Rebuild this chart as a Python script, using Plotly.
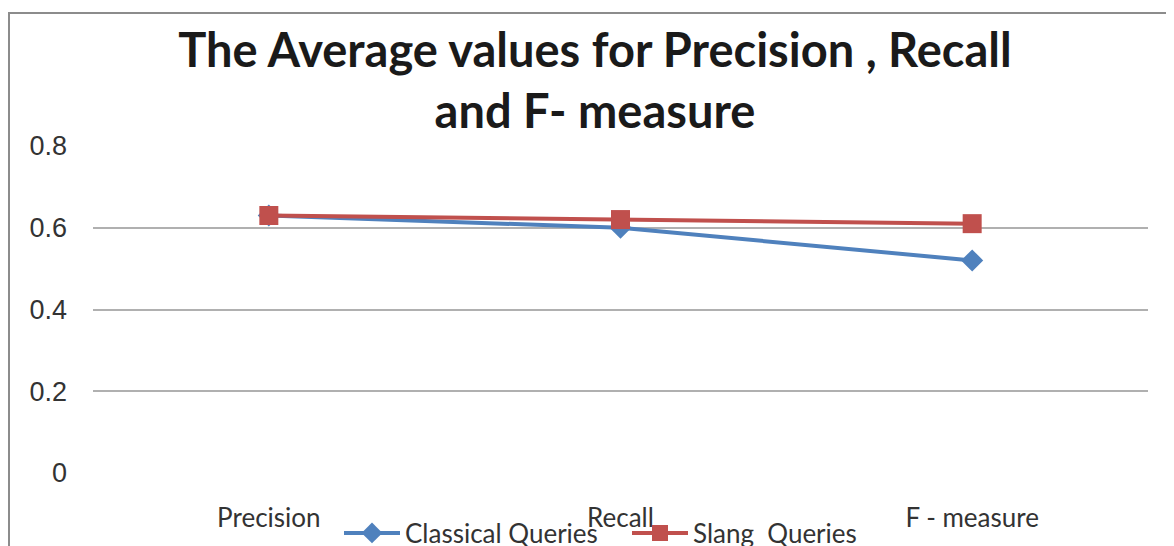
import plotly.graph_objects as go

categories = ["Precision", "Recall", "F - measure"]
classical = [0.63, 0.60, 0.52]
slang = [0.63, 0.62, 0.61]
y_ticks = [0, 0.2, 0.4, 0.6, 0.8]
y_tick_labels = ["0", "0.2", "0.4", "0.6", "0.8"]

fig = go.Figure()
fig.add_trace(go.Scatter(
    x=categories, y=classical, name="Classical Queries", mode="lines+markers",
    line=dict(color="#4F81BD", width=4),
    marker=dict(symbol="diamond", size=17, color="#4F81BD"),
))
fig.add_trace(go.Scatter(
    x=categories, y=slang, name="Slang  Queries", mode="lines+markers",
    line=dict(color="#C0504D", width=4),
    marker=dict(symbol="square", size=19, color="#C0504D"),
))

fig.update_layout(
    width=1174, height=546,
    margin=dict(l=85, r=34, t=138, b=81, autoexpand=False),
    paper_bgcolor="white", plot_bgcolor="white",
    title=dict(
        text="The Average values for Precision , Recall<br>and F- measure",
        font=dict(family="Lato", size=47, color="#1a1a1a", weight="bold"),
        x=587 / 1174, xanchor="center", xref="container",
        y=1 - 59 / 546, yanchor="top", yref="container",
    ),
    xaxis=dict(
        range=[-0.5, 2.5], showgrid=False, zeroline=False, showline=False,
        tickfont=dict(family="Lato", size=26, color="#333333"),
        ticks="", ticklabelstandoff=27, automargin=False,
    ),
    yaxis=dict(
        range=[0, 0.8], tickvals=y_ticks, ticktext=y_tick_labels,
        showgrid=True, gridcolor="#b0b0b0", gridwidth=1.5, zeroline=False,
        showline=False, ticks="", automargin=False,
        tickfont=dict(family="Liberation Sans", size=27, color="#333333"),
        ticklabelstandoff=25,
    ),
    legend=dict(
        orientation="h", x=331 / 1174, xanchor="left", xref="container",
        y=1 - 525 / 546, yanchor="middle", yref="container",
        font=dict(family="Lato", size=26, color="#333333"),
        bgcolor="rgba(0,0,0,0)", tracegroupgap=0,
        itemwidth=56, entrywidth=217, entrywidthmode="pixels",
    ),
    showlegend=True,
)

fig.add_shape(
    type="rect", xref="paper", yref="paper",
    x0=(1 - 85) / 1055, x1=(1190 - 85) / 1055,
    y0=(465 - 560) / 327, y1=(465 - 5) / 327,
    line=dict(color="#8c8c8c", width=2), fillcolor="rgba(0,0,0,0)", layer="below",
)

fig.write_html("out.html")
